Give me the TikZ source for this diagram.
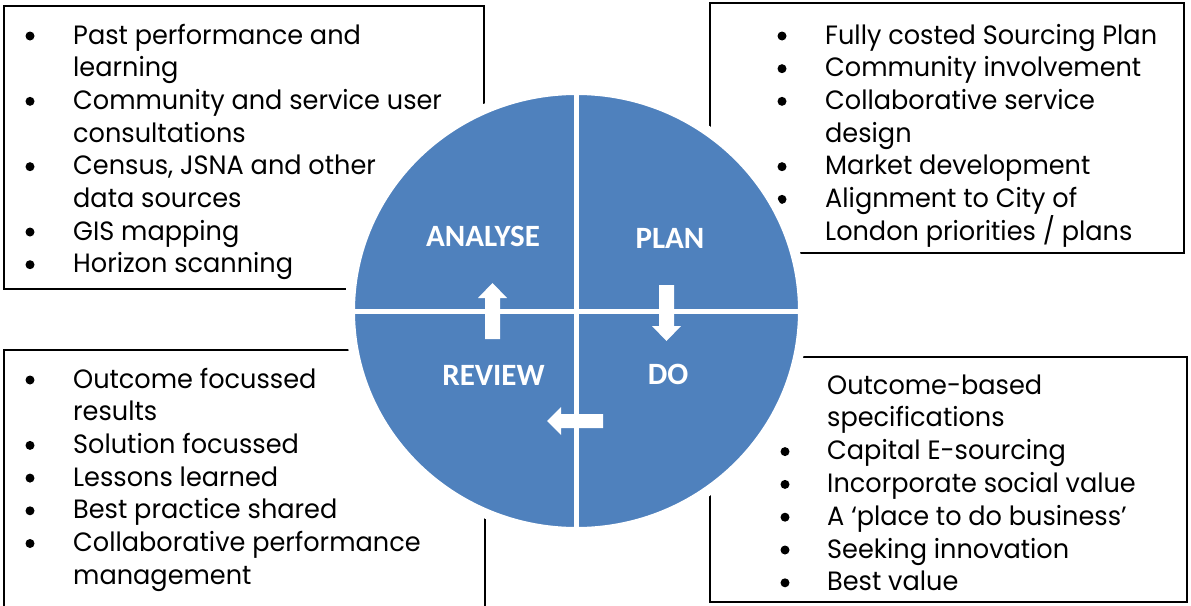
\documentclass[tikz,border=0pt]{standalone}
\usepackage{fontspec}
\newfontfamily\bodyfont[FakeStretch=0.965]{Poppins}
\newfontfamily\labelfont{Carlito}
\definecolor{pieblue}{RGB}{79,129,189}

\begin{document}
\begin{tikzpicture}[x=1pt,y=-1pt,
  frame/.style={draw=black, line width=1.8pt},
  txt/.style={anchor=base west, inner sep=0pt, font=\bodyfont\fontsize{26.5}{30}\selectfont},
  dot/.style={circle, fill=black, minimum size=9pt, inner sep=0pt},
  stage/.style={anchor=base, inner sep=0pt, text=white, font=\labelfont\bfseries\fontsize{31}{36}\selectfont},
  gap/.style={draw=white, line width=5pt},
  blockarrow/.style={fill=white, draw=none}]
\useasboundingbox (0,0) rectangle (1191,605);

% the four text frames
\draw[frame] (4,6) rectangle (484,289);
\draw[frame] (710,3) rectangle (1184,253);
\draw[frame] (4,350) rectangle (485,640);
\draw[frame] (710,357) rectangle (1187,602);

% ANALYSE list
\foreach \t [count=\i from 0] in {Past performance and, learning,
    Community and service user, consultations,
    {Census, JSNA and other}, data sources, GIS mapping, Horizon scanning}
  \node[txt] (tl\i) at (73,{44+32.67*\i}) {\t};
\foreach \i in {0,2,4,6,7}
  \node[dot] (tlb\i) at (30,{44+32.67*\i-8}) {};

% PLAN list
\foreach \t [count=\i from 0] in {Fully costed Sourcing Plan, Community involvement,
    Collaborative service, design, Market development,
    Alignment to City of, London priorities / plans}
  \node[txt] (tr\i) at (825,{44+32.67*\i}) {\t};
\foreach \i in {0,1,2,4,5}
  \node[dot] (trb\i) at (782,{44+32.67*\i-8}) {};

% REVIEW list
\foreach \t [count=\i from 0] in {Outcome focussed, results, Solution focussed,
    Lessons learned, Best practice shared, Collaborative performance, management}
  \node[txt] (bl\i) at (73,{388+32.7*\i}) {\t};
\foreach \i in {0,2,3,4,5}
  \node[dot] (blb\i) at (30,{388+32.7*\i-8}) {};

% DO list
\foreach \t [count=\i from 0] in {Outcome-based, specifications, Capital E-sourcing,
    Incorporate social value, A ‘place to do business’, Seeking innovation, Best value}
  \node[txt] (br\i) at (827,{394+32.8*\i}) {\t};
\foreach \i in {2,3,4,5,6}
  \node[dot] (brb\i) at (785,{394+32.8*\i-8}) {};

% the cycle disc, split into quarters
\draw[fill=pieblue, draw=white, line width=10pt] (576.5,311) ellipse [x radius=226.5, y radius=221];
\draw[gap] (576.5,90) -- (576.5,532);
\draw[gap] (350,311) -- (803,311);

% stage names
\node[stage] (analyse) at (483,246) {ANALYSE};
\node[stage] (plan)    at (670,248) {PLAN};
\node[stage] (review)  at (493.5,385) {REVIEW};
\node[stage] (do)      at (668,384) {DO};

% block arrows between the stages
\fill[blockarrow] (485,339) -- (485,298) -- (478,298) -- (492.5,283) -- (507,298) -- (500,298) -- (500,339) -- cycle;
\fill[blockarrow] (659,285) -- (659,326) -- (652,326) -- (666.5,341) -- (681,326) -- (674,326) -- (674,285) -- cycle;
\fill[blockarrow] (603,414) -- (561,414) -- (561,407) -- (547,421) -- (561,435) -- (561,428) -- (603,428) -- cycle;
\end{tikzpicture}
\end{document}
